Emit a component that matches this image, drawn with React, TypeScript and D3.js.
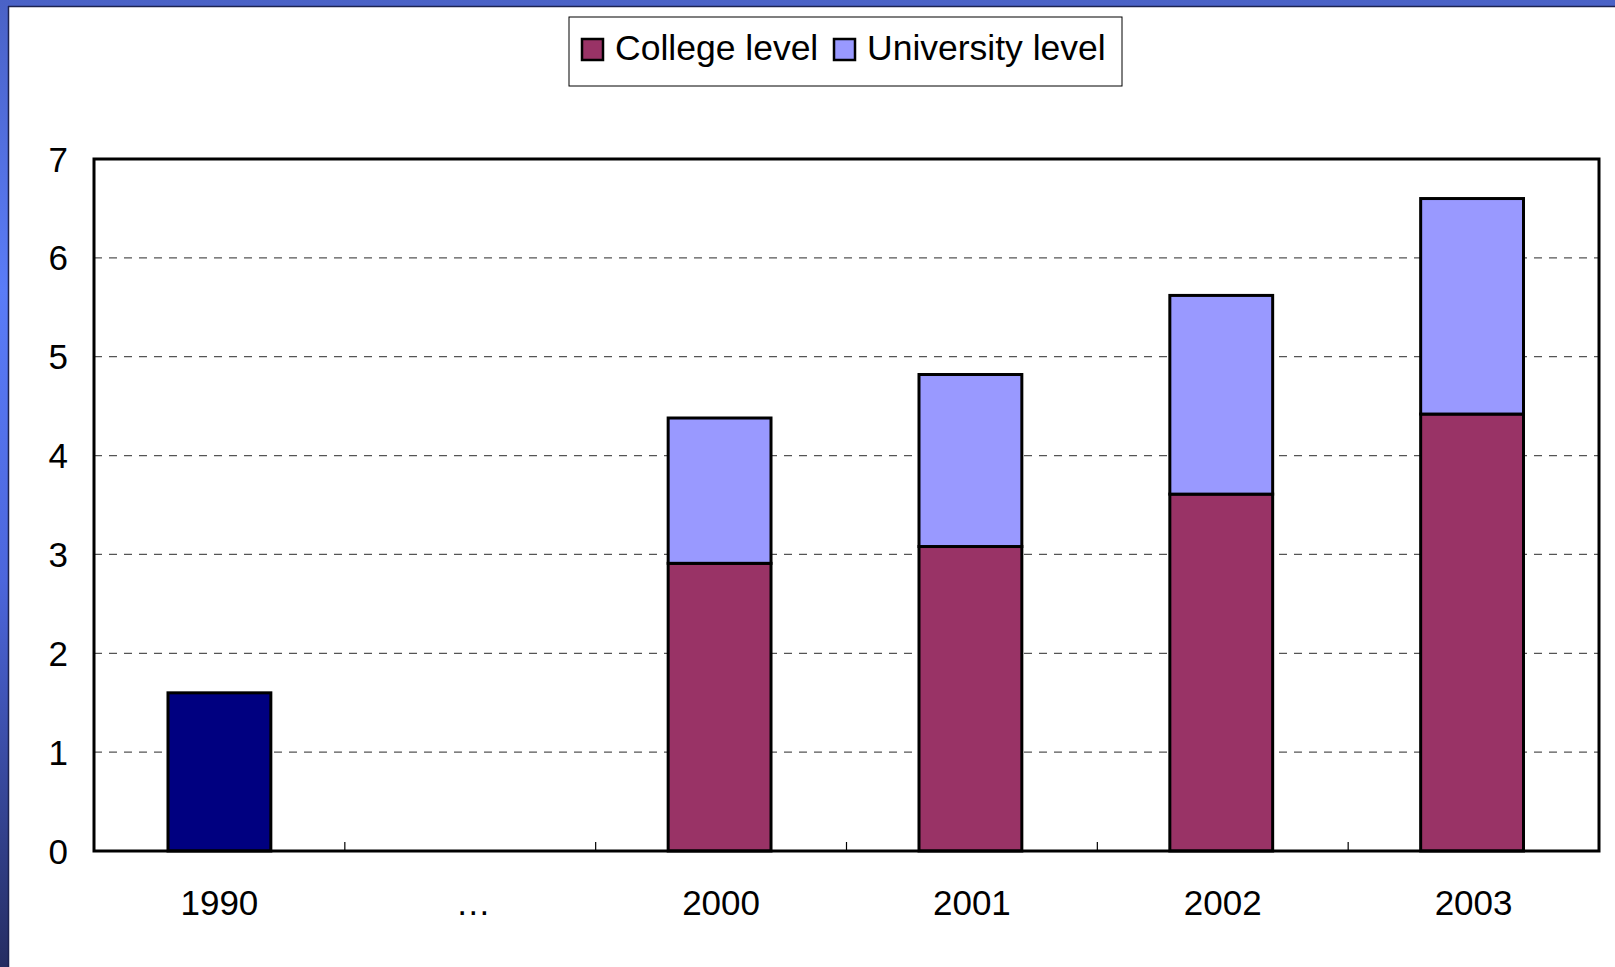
import { useMemo } from 'react';
import * as d3 from 'd3';

// Chart data
const categories = ['1990', '…', '2000', '2001', '2002', '2003'];
const total1990 = [1.6, null, null, null, null, null];
const college = [null, null, 2.91, 3.08, 3.61, 4.42];
const university = [null, null, 1.47, 1.74, 2.01, 2.18];
const yTicks = [0, 1, 2, 3, 4, 5, 6, 7];
const seriesNames = ['College level', 'University level'];

const W = 1615;
const H = 967;
const plot = { left: 94, right: 1599, top: 159, bottom: 851 };
const colors = { college: '#993366', university: '#9999FF', total: '#000080' };
const FONT = '"Liberation Sans", Arial, sans-serif';

export default function App() {
  const x = useMemo(
    () => d3.scaleBand<string>().domain(categories).range([plot.left, plot.right]).paddingInner(0.59).paddingOuter(0.295),
    []
  );
  const y = useMemo(() => d3.scaleLinear().domain([0, 7]).range([plot.bottom, plot.top]), []);

  const rows = categories.map((c, i) => ({ cat: c, college: college[i] ?? 0, university: university[i] ?? 0 }));
  const stacked = d3.stack<any>().keys(['college', 'university'])(rows);
  const step = x.step();
  const boundaries = d3.range(1, categories.length).map((i) => plot.left + i * step);

  return (
    <>
      <style>{'body{margin:0;overflow:hidden}'}</style>
      <svg width={W} height={H} style={{ display: 'block' }} fontFamily={FONT}>
        <defs>
          <linearGradient id="bg" x1="0" y1="0" x2="0" y2="1">
            <stop offset="0" stopColor="#4a62c6" />
            <stop offset="0.3" stopColor="#5a7cf8" />
            <stop offset="0.6" stopColor="#4c66dc" />
            <stop offset="1" stopColor="#252d62" />
          </linearGradient>
        </defs>
        <rect x={0} y={0} width={W} height={H} fill="url(#bg)" />
        <rect x={9} y={7} width={W} height={H} fill="#fff" />
        <line x1={8.5} x2={8.5} y1={6} y2={H} stroke="#1c2350" strokeWidth={1.5} />
        <line x1={8} x2={W} y1={6.5} y2={6.5} stroke="#1c2350" strokeWidth={1.5} />

        {/* legend */}
        <g>
          <rect x={569} y={17} width={553} height={69} fill="#fff" stroke="#000" strokeWidth={1} />
          {seriesNames.map((name, i) => {
            const lx = [582, 834][i];
            return (
              <g key={name}>
                <rect x={lx} y={39} width={21} height={21} fill={i === 0 ? colors.college : colors.university} stroke="#000" strokeWidth={2.5} />
                <text x={lx + 33} y={60} fontSize={35.5} fill="#000">{name}</text>
              </g>
            );
          })}
        </g>

        {/* gridlines */}
        {yTicks.filter((t) => t > 0 && t < 7).map((t) => (
          <line key={t} x1={plot.left} x2={plot.right} y1={y(t)} y2={y(t)} stroke="#555" strokeWidth={1.2} strokeDasharray="8 7" />
        ))}

        {/* 1990 bar */}
        {total1990.map((v, i) =>
          v == null ? null : (
            <rect key={i} x={x(categories[i])} y={y(v)} width={x.bandwidth()} height={y(0) - y(v)} fill={colors.total} stroke="#000" strokeWidth={3} />
          )
        )}

        {/* stacked bars */}
        {stacked.map((s) => (
          <g key={s.key} fill={s.key === 'college' ? colors.college : colors.university}>
            {s.map((d, i) =>
              d[1] - d[0] <= 0 ? null : (
                <rect key={i} x={(x(categories[i]) ?? 0) - 1.5} y={y(d[1])} width={x.bandwidth()} height={y(d[0]) - y(d[1])} stroke="#000" strokeWidth={3} />
              )
            )}
          </g>
        ))}

        {/* category boundary ticks */}
        {boundaries.map((bx, i) => (
          <line key={i} x1={bx} x2={bx} y1={plot.bottom - 9} y2={plot.bottom} stroke="#000" strokeWidth={1.2} />
        ))}

        {/* plot frame */}
        <rect x={plot.left} y={plot.top} width={plot.right - plot.left} height={plot.bottom - plot.top} fill="none" stroke="#000" strokeWidth={3} />

        {/* y labels */}
        {yTicks.map((t) => (
          <text key={t} x={68} y={y(t)} dy="0.36em" textAnchor="end" fontSize={35} fill="#000">{t}</text>
        ))}

        {/* x labels */}
        {categories.map((c) => (
          <text key={c} x={(x(c) ?? 0) + x.bandwidth() / 2 + (c === '…' ? 3 : 0)} y={915} textAnchor="middle" fontSize={35} fill="#000">{c}</text>
        ))}
      </svg>
    </>
  );
}
